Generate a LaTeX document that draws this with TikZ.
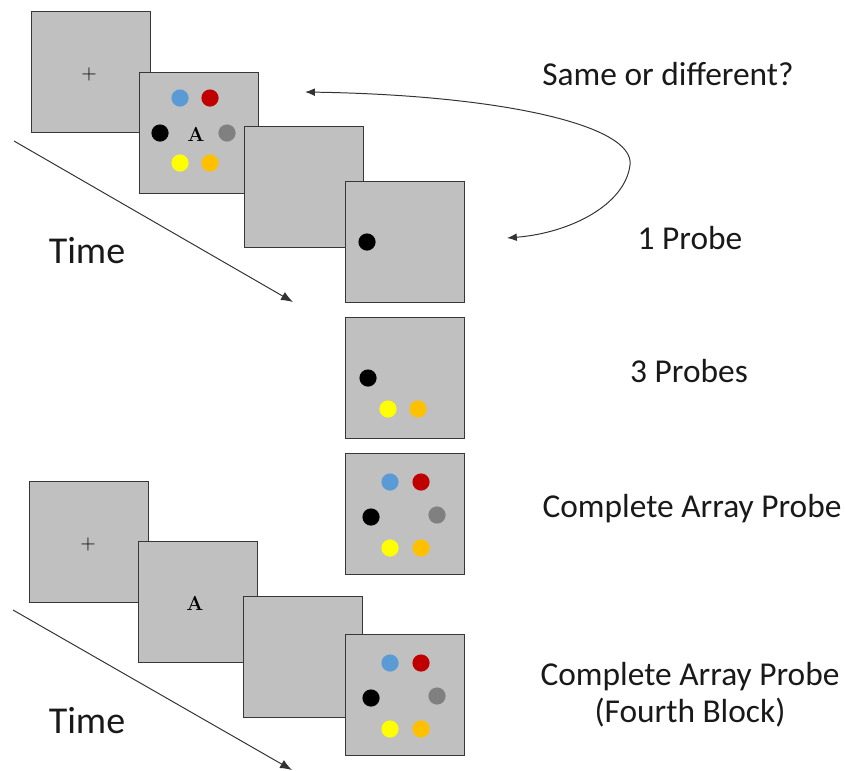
\documentclass[tikz,border=0pt]{standalone}
\usepackage{fontspec}
\newfontfamily\labelfont{Carlito}
\usetikzlibrary{arrows.meta}

\definecolor{screengray}{RGB}{192,192,192}
\definecolor{edgegray}{RGB}{55,55,55}
\definecolor{dotblue}{RGB}{91,155,213}
\definecolor{dotred}{RGB}{192,0,0}
\definecolor{dotgray}{RGB}{128,128,128}
\definecolor{dotyellow}{RGB}{255,255,0}
\definecolor{dotorange}{RGB}{255,192,0}

\begin{document}
\begin{tikzpicture}[x = 0.025cm, y = -0.025cm]
\tikzstyle{ScreenStyle}=[draw = edgegray, fill = screengray,
                         line width = 0.9pt,
                         minimum width = 2.975cm,
                         minimum height = 3.025cm,
                         inner sep = 0pt, anchor = north west]
\tikzstyle{DotStyle}=[circle, minimum size = 0.43cm, inner sep = 0pt]
\tikzstyle{LabelStyle}=[text = black!90, anchor = base,
                        font = \labelfont\fontsize{23.75}{26.3}\selectfont]
\tikzstyle{TimeStyle}=[text = black!90, anchor = base,
                       font = \labelfont\fontsize{27}{32}\selectfont]
\tikzstyle{post}=[draw = black!80, line width = 0.7pt,
                  -{Latex[length = 8.5pt, width = 6.5pt]}]
\useasboundingbox (0,0) rectangle (845,770);

% first block
\node[ScreenStyle] (s1) at (31,11) {};
\node[font = \Large] (s1fix) at (89,74) {$+$};
\node[ScreenStyle] (s2) at (139,72) {};
\node[DotStyle, fill = dotblue]   (s2b) at ([shift = {(41,26)}]s2.north west) {};
\node[DotStyle, fill = dotred]    (s2r) at ([shift = {(71,26)}]s2.north west) {};
\node[DotStyle, fill = black]     (s2k) at ([shift = {(21,61)}]s2.north west) {};
\node[DotStyle, fill = dotgray]   (s2g) at ([shift = {(88,61)}]s2.north west) {};
\node[DotStyle, fill = dotyellow] (s2y) at ([shift = {(41,91)}]s2.north west) {};
\node[DotStyle, fill = dotorange] (s2o) at ([shift = {(71,91)}]s2.north west) {};
\node[font = \Large\bfseries] (s2let) at (196,134) {A};
\node[ScreenStyle] (s3) at (244,126) {};
\node[ScreenStyle] (s4) at (345,181) {};
\node[DotStyle, fill = black]     (s4k) at ([shift = {(22,61)}]s4.north west) {};

% probe types
\node[ScreenStyle] (s5) at (345,317) {};
\node[DotStyle, fill = black]     (s5k) at ([shift = {(23,61)}]s5.north west) {};
\node[DotStyle, fill = dotyellow] (s5y) at ([shift = {(43,92)}]s5.north west) {};
\node[DotStyle, fill = dotorange] (s5o) at ([shift = {(73,92)}]s5.north west) {};
\node[ScreenStyle] (s6) at (345,453) {};
\node[DotStyle, fill = dotblue]   (s6b) at ([shift = {(45,29)}]s6.north west) {};
\node[DotStyle, fill = dotred]    (s6r) at ([shift = {(76,29)}]s6.north west) {};
\node[DotStyle, fill = black]     (s6k) at ([shift = {(26,64)}]s6.north west) {};
\node[DotStyle, fill = dotgray]   (s6g) at ([shift = {(92,62)}]s6.north west) {};
\node[DotStyle, fill = dotyellow] (s6y) at ([shift = {(45,95)}]s6.north west) {};
\node[DotStyle, fill = dotorange] (s6o) at ([shift = {(76,95)}]s6.north west) {};

% fourth block
\node[ScreenStyle] (s7) at (29,481) {};
\node[font = \Large] (s7fix) at (88,544) {$+$};
\node[ScreenStyle] (s8) at (138,541) {};
\node[font = \Large\bfseries] (s8let) at (195,603) {A};
\node[ScreenStyle] (s9) at (243,596) {};
\node[ScreenStyle] (s10) at (345,634) {};
\node[DotStyle, fill = dotblue]   (s10b) at ([shift = {(45,29)}]s10.north west) {};
\node[DotStyle, fill = dotred]    (s10r) at ([shift = {(76,29)}]s10.north west) {};
\node[DotStyle, fill = black]     (s10k) at ([shift = {(26,64)}]s10.north west) {};
\node[DotStyle, fill = dotgray]   (s10g) at ([shift = {(92,62)}]s10.north west) {};
\node[DotStyle, fill = dotyellow] (s10y) at ([shift = {(45,95)}]s10.north west) {};
\node[DotStyle, fill = dotorange] (s10o) at ([shift = {(76,95)}]s10.north west) {};

% time arrows
\node[TimeStyle] (time1) at (87,263) {Time};
\coordinate (t1a) at (14,141);
\coordinate (t1b) at (293,302);
\draw[post] (t1a) -- (t1b);
\node[TimeStyle] (time2) at (87,733) {Time};
\coordinate (t2a) at (13,610);
\coordinate (t2b) at (292,770);
\draw[post] (t2a) -- (t2b);

% labels
\node[LabelStyle] (lblsame) at (668,85) {Same or different?};
\node[LabelStyle] (lblone) at (690,249) {1 Probe};
\node[LabelStyle] (lblthree) at (689,382) {3 Probes};
\node[LabelStyle] (lblfull) at (692,517) {Complete Array Probe};
\node[LabelStyle, align = center] (lblfourth) at (690,722)
  {Complete Array Probe\\(Fourth Block)};

% comparison arrow
\coordinate (cmpa) at (305,92);
\coordinate (cmpb) at (507,238);
\draw[post, {Latex[length = 7pt, width = 5.5pt]}-{Latex[length = 7pt, width = 5.5pt]}]
  (cmpa) .. controls (500,95) and (635,125) .. (630,165)
         .. controls (625,205) and (570,233) .. (cmpb);
\end{tikzpicture}
\end{document}
